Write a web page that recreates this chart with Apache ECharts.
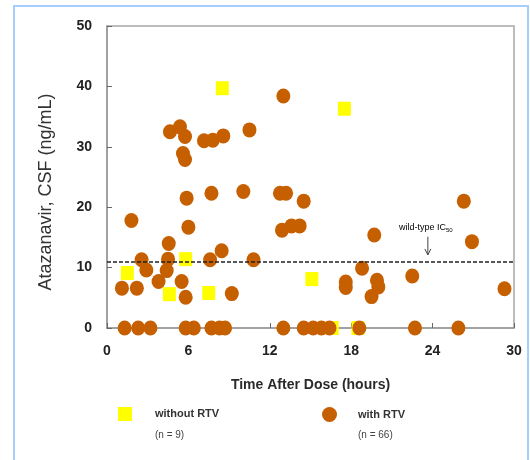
<!DOCTYPE html>
<html>
<head>
<meta charset="utf-8">
<script src="https://cdn.jsdelivr.net/npm/echarts@6/dist/echarts.min.js"></script>
<style>
html,body{margin:0;padding:0;background:#fff;}
#chart{width:530px;height:460px;}
</style>
</head>
<body>
<div id="chart"></div>
<script>
// ---- data ----
const seriesNames = ['without RTV', 'with RTV'];
const sampleCounts = ['(n = 9)', '(n = 66)'];
const xRange = [0, 30, 6];
const yRange = [0, 50, 10];
const ic50Value = 11;
const ic50Label = 'wild-type IC';
const ic50Sub = '50';
const withoutRTV = [
  [8.5, 39.7], [17.5, 36.3], [1.5, 9.1], [5.8, 11.4], [4.6, 5.6],
  [7.5, 5.8], [15.1, 8.1], [16.6, 0], [18.5, 0]
];
const withRTV = [
  [13.0, 38.4], [4.64, 32.5], [5.38, 33.3], [5.75, 31.7], [7.15, 31.0],
  [7.8, 31.1], [8.57, 31.8], [10.5, 32.8], [5.6, 28.9], [5.75, 27.9],
  [5.87, 21.5], [7.7, 22.3], [10.05, 22.6], [12.75, 22.3], [13.2, 22.3],
  [14.5, 21.0], [26.3, 21.0], [1.8, 17.8], [6.0, 16.7], [12.9, 16.2],
  [13.6, 16.9], [14.2, 16.9], [19.7, 15.4], [26.9, 14.3], [4.55, 14.0],
  [8.45, 12.8], [2.55, 11.3], [2.9, 9.6], [4.5, 11.4], [4.4, 9.5],
  [3.8, 7.7], [7.6, 11.3], [10.8, 11.3], [5.5, 7.7], [5.8, 5.1],
  [1.1, 6.6], [2.2, 6.6], [9.2, 5.7], [18.8, 9.9], [17.6, 7.6],
  [17.6, 6.7], [19.9, 7.9], [20.0, 6.8], [19.5, 5.2], [22.5, 8.6],
  [29.3, 6.5],
  [1.3, 0], [2.3, 0], [3.2, 0], [5.8, 0], [6.4, 0], [7.7, 0], [8.3, 0], [8.7, 0],
  [13.0, 0], [14.5, 0], [15.2, 0], [15.8, 0], [16.4, 0], [18.6, 0], [22.7, 0], [25.9, 0]
];
// annotation anchor (data space)
const arrowFrom = [23.65, 15.1];
const arrowTo = [23.65, 12.1];
const labelAt = [23.5, 16.6];

const FONT = '"Liberation Sans", Arial, sans-serif';
const BROWN = '#C65F00';
const YELLOW = '#FFFF00';

const chart = echarts.init(document.getElementById('chart'), null, {renderer: 'canvas'});

const option = {
  backgroundColor: '#fff',
  animation: false,
  grid: {
    left: 107, right: 16, top: 26, bottom: 132,
    show: true, borderColor: '#a8a8a8', borderWidth: 1.5, backgroundColor: 'transparent'
  },
  xAxis: {
    type: 'value', min: xRange[0], max: xRange[1], interval: xRange[2],
    name: 'Time After Dose (hours)', nameLocation: 'middle', nameGap: 50,
    nameTextStyle: {fontFamily: FONT, fontWeight: 'bold', fontSize: 14, color: '#2a2a2a'},
    axisLine: {show: true, onZero: false, lineStyle: {color: '#999', width: 1.5}},
    axisTick: {show: true, inside: true, length: 5, lineStyle: {color: '#666'}},
    axisLabel: {fontFamily: FONT, fontWeight: 'bold', fontSize: 14, color: '#222', margin: 16},
    splitLine: {show: false}
  },
  yAxis: {
    type: 'value', min: yRange[0], max: yRange[1], interval: yRange[2],
    axisLine: {show: true, lineStyle: {color: '#999', width: 1.5}},
    axisTick: {show: true, inside: true, length: 5, lineStyle: {color: '#666'}},
    axisLabel: {fontFamily: FONT, fontWeight: 'bold', fontSize: 14, color: '#222', margin: 15},
    splitLine: {show: false}
  },
  legend: [
    {
      data: [seriesNames[0]], left: 113, top: 402, itemWidth: 14, itemHeight: 14,
      textStyle: {fontFamily: FONT, fontWeight: 'bold', fontSize: 11, color: '#333', padding: [0, 0, 0, 18]}
    },
    {
      data: [seriesNames[1]], left: 317, top: 402, itemWidth: 15, itemHeight: 15,
      textStyle: {fontFamily: FONT, fontWeight: 'bold', fontSize: 11, color: '#333', padding: [0, 0, 0, 16]}
    }
  ],
  series: [
    {
      name: seriesNames[0], type: 'scatter', data: withoutRTV,
      symbol: 'rect', symbolSize: [13, 14],
      itemStyle: {color: YELLOW, opacity: 1}, z: 2
    },
    {
      name: seriesNames[1], type: 'scatter', data: withRTV,
      symbol: 'circle', symbolSize: [14, 15],
      itemStyle: {color: BROWN, opacity: 1}, z: 3,
      markLine: {
        silent: true, symbol: ['none', 'none'], z: 10,
        label: {show: false},
        lineStyle: {color: '#222', width: 1.6, type: [4, 2]},
        data: [{yAxis: ic50Value}]
      }
    }
  ]
};
chart.setOption(option);

const pFrom = chart.convertToPixel({gridIndex: 0}, arrowFrom);
const pTo = chart.convertToPixel({gridIndex: 0}, arrowTo);
const pLab = chart.convertToPixel({gridIndex: 0}, labelAt);

chart.setOption({
  graphic: [
    {
      type: 'rect', silent: true,
      shape: {x: 14, y: 6, width: 514, height: 470},
      style: {fill: 'none', stroke: '#a6cfff', lineWidth: 2}
    },
    {
      type: 'text', silent: true, x: 46, y: 192, rotation: Math.PI / 2,
      style: {text: 'Atazanavir, CSF (ng/mL)', fontFamily: FONT, fontSize: 18, fill: '#333',
        align: 'center', verticalAlign: 'middle'}
    },
    {
      type: 'text', silent: true, x: 155, y: 435,
      style: {text: sampleCounts[0], fontFamily: FONT, fontSize: 10, fill: '#444',
        align: 'left', verticalAlign: 'middle'}
    },
    {
      type: 'text', silent: true, x: 358, y: 435,
      style: {text: sampleCounts[1], fontFamily: FONT, fontSize: 10, fill: '#444',
        align: 'left', verticalAlign: 'middle'}
    },
    {
      type: 'text', silent: true, x: pLab[0], y: pLab[1],
      style: {
        text: '{a|' + ic50Label + '}{s|' + ic50Sub + '}',
        align: 'center', verticalAlign: 'middle',
        rich: {
          a: {fontFamily: FONT, fontSize: 9, color: '#333'},
          s: {fontFamily: FONT, fontSize: 6, color: '#333', padding: [6, 0, 0, 0]}
        }
      }
    },
    {
      type: 'line', silent: true,
      shape: {x1: pFrom[0], y1: pFrom[1], x2: pTo[0], y2: pTo[1]},
      style: {stroke: '#444', lineWidth: 1}
    },
    {
      type: 'polyline', silent: true,
      shape: {points: [[pTo[0] - 3, pTo[1] - 6], [pTo[0], pTo[1]], [pTo[0] + 3, pTo[1] - 6]]},
      style: {stroke: '#444', lineWidth: 1, fill: 'none'}
    }
  ]
});
</script>
</body>
</html>
